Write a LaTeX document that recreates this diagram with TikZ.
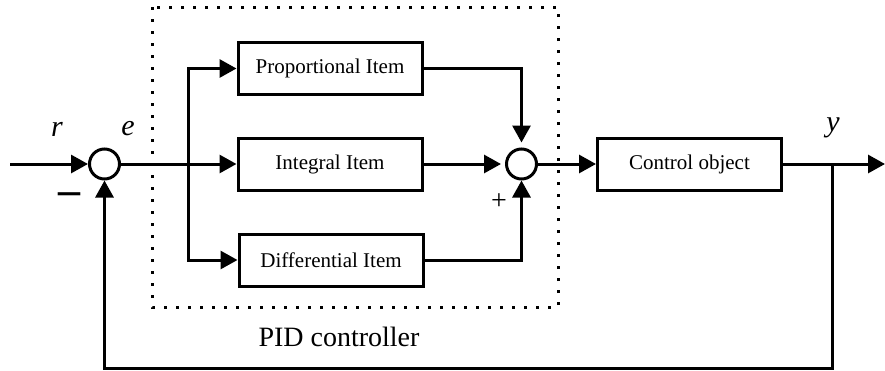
\documentclass[tikz,border=0pt]{standalone}
\usepackage{fontspec}
\setmainfont{Liberation Serif}
\usetikzlibrary{arrows.meta}
\begin{document}
\begin{tikzpicture}[x=1pt,y=-1pt,>={Triangle[length=17pt,width=18pt]},line width=3pt,
    khoi/.style={draw,minimum width=184pt,minimum height=52pt,inner sep=0pt,font=\fontsize{21}{21}\selectfont},
    tong/.style={draw,circle,minimum size=30pt,inner sep=0pt},
    nhan/.style={font=\fontsize{30}{30}\selectfont\itshape}]
    \useasboundingbox (0,0) rectangle (885,370);
    \draw[line width=3pt,dash pattern=on 3pt off 9pt] (152,7) rectangle (558,307);
    \node[tong] (S1) at (104.5,164) {};
    \node[tong] (S2) at (521.5,164) {};
    \node[khoi] (P) at (330,68.5) {Proportional Item};
    \node[khoi] (I) at (330,164) {Integral Item};
    \node[khoi] (D) at (331,260) {Differential Item};
    \node[khoi] (C) at (689.5,164) {Control object};
    \coordinate (in) at (10,164);
    \coordinate (br) at (188,164);
    \coordinate (fb) at (832,164);
    \coordinate (fbd) at (832,368);
    \coordinate (out) at (885,164);
    \draw[->] (in)--(S1);
    \draw (S1)--(br);
    \draw[->] (br)|-(P);
    \draw[->] (br)--(I);
    \draw[->] (br)|-(D);
    \draw[->,shorten >=5pt] (P)-|(S2);
    \draw[->,shorten >=4pt] (I)--(S2);
    \draw[->] (D)-|(S2);
    \draw[->] (S2)--(C);
    \draw[->] (C)--(out);
    \draw[->] (fb)--(fbd)-|(S1);
    \foreach \ten/\x/\y in {r/57/129,e/128/129,y/833/128} \node[nhan] (lb\ten) at (\x,\y) {\ten};
    \node[font=\fontsize{44}{44}\selectfont\bfseries] (tru) at (69,199) {–};
    \node[font=\fontsize{28}{28}\selectfont] (cong) at (499,202) {+};
    \node[font=\fontsize{28}{28}\selectfont] (pid) at (339,337) {PID controller};
\end{tikzpicture}
\end{document}
